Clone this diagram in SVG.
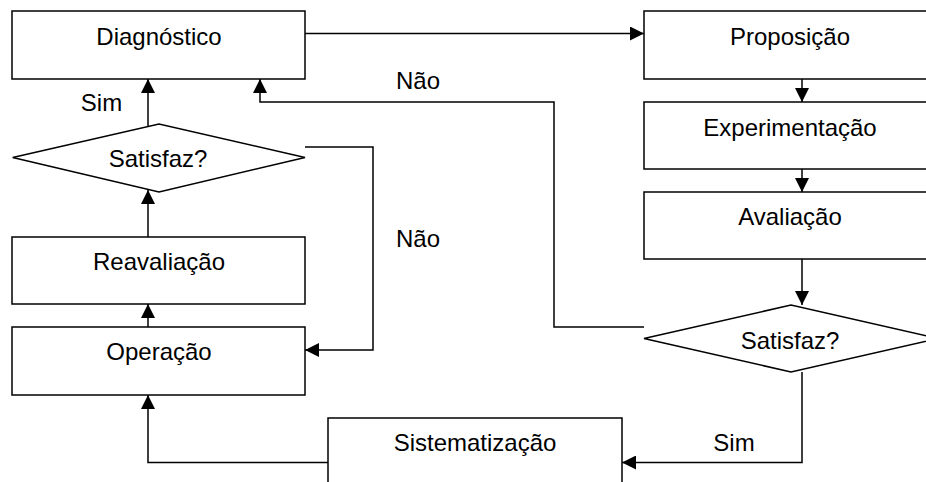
<svg xmlns="http://www.w3.org/2000/svg" width="926" height="482" viewBox="0 0 926 482">
<style>
.box{fill:#fff;stroke:#000;stroke-width:1.5}
.t{font-family:"Liberation Sans",Arial,sans-serif;font-size:24px;fill:#000;text-anchor:middle}
.c{fill:none;stroke:#000;stroke-width:1.5;marker-end:url(#ah)}
.n{fill:none;stroke:#000;stroke-width:1.5}
</style>
<defs>
<marker id="ah" viewBox="0 0 14 14" refX="14" refY="7" markerWidth="14" markerHeight="14" markerUnits="userSpaceOnUse" orient="auto">
<path d="M0,0 L14,7 L0,14 z" fill="#000"/>
</marker>
</defs>
<rect width="926" height="482" fill="#fff"/>
<g id="connectors">
<path class="c" d="M305,33.5 H644"/>
<path class="c" d="M802,79 V102"/>
<path class="c" d="M802,169 V192"/>
<path class="c" d="M802,259 V305"/>
<path class="c" d="M644,327 H554 V102 H260 V79"/>
<path class="c" d="M802,372 V462.5 H622"/>
<path class="c" d="M328,462.5 H148 V395"/>
<path class="c" d="M148,327 V304"/>
<path class="c" d="M148,237 V190"/>
<path class="c" d="M148,126 V79"/>
<path class="c" d="M305,147 H373 V350 H305"/>
</g>
<g id="diagnostico">
<rect class="box" x="12" y="11" width="293" height="68"/>
<text class="t" x="159" y="45">Diagnóstico</text>
</g>
<g id="proposicao">
<rect class="box" x="644" y="11" width="292" height="68"/>
<text class="t" x="790" y="45">Proposição</text>
</g>
<g id="experimentacao">
<rect class="box" x="644" y="102" width="292" height="67"/>
<text class="t" x="790" y="136">Experimentação</text>
</g>
<g id="avaliacao">
<rect class="box" x="644" y="192" width="292" height="67"/>
<text class="t" x="790" y="225">Avaliação</text>
</g>
<g id="satisfaz2">
<polygon class="box" points="644,338.5 791,305 938,338.5 791,372"/>
<text class="t" x="790" y="349">Satisfaz?</text>
</g>
<g id="sistematizacao">
<rect class="box" x="328" y="418" width="294" height="70"/>
<text class="t" x="475" y="451">Sistematização</text>
</g>
<g id="operacao">
<rect class="box" x="12" y="327" width="293" height="68"/>
<text class="t" x="159" y="360">Operação</text>
</g>
<g id="reavaliacao">
<rect class="box" x="12" y="237" width="293" height="67"/>
<text class="t" x="159" y="270">Reavaliação</text>
</g>
<g id="satisfaz1">
<polygon class="box" points="12.7,157.5 159,124 305,157.5 159,192"/>
<text class="t" x="158" y="167">Satisfaz?</text>
</g>
<g id="labels">
<text class="t" x="101.5" y="111">Sim</text>
<text class="t" x="418" y="89">Não</text>
<text class="t" x="418" y="247">Não</text>
<text class="t" x="734" y="451">Sim</text>
</g>
</svg>
